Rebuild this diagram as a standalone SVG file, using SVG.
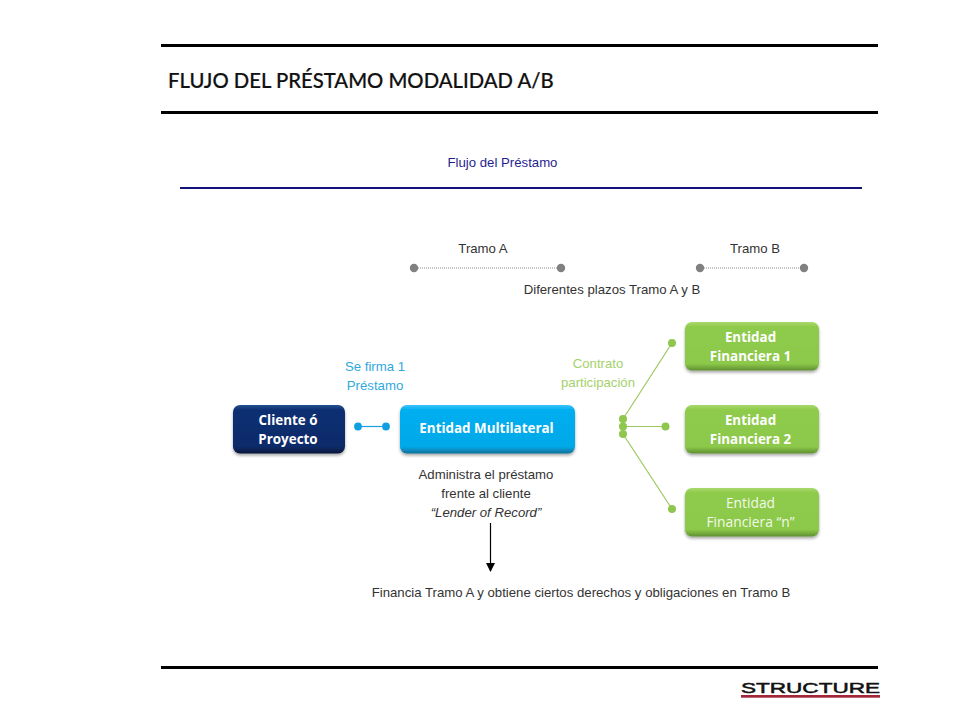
<svg xmlns="http://www.w3.org/2000/svg" width="960" height="720" viewBox="0 0 960 720">
<style>
.rule{stroke:#000;stroke-width:3;fill:none}
text{font-family:"Liberation Sans",Arial,sans-serif;font-size:13.2px;text-anchor:middle;fill:#333}
.box{font-family:"Open Sans","Noto Sans",sans-serif;font-size:13.4px;font-weight:700;fill:#fff}
.thin{font-weight:400;font-size:13.800px;fill:#f2f9e8}
.gray{stroke:#8c8c8c;stroke-width:1;stroke-dasharray:1 1;fill:none}
.gd{fill:#808080}
.bl{stroke:#1ba1e2;stroke-width:1.2;fill:none}
.bd{fill:#0f9fe0}
.gr{stroke:#9cc85c;stroke-width:1.2;fill:none}
.grd{fill:#8ec64e}
</style>
<defs>
<linearGradient id="gGreen" x1="0" y1="0" x2="0" y2="1"><stop offset="0" stop-color="#a9d86c"/><stop offset=".1" stop-color="#8fcb4c"/><stop offset=".86" stop-color="#8cc84a"/><stop offset="1" stop-color="#5f8f30"/></linearGradient>
<linearGradient id="gBlue" x1="0" y1="0" x2="0" y2="1"><stop offset="0" stop-color="#3cc4fb"/><stop offset=".1" stop-color="#02aef0"/><stop offset=".86" stop-color="#05a9e8"/><stop offset="1" stop-color="#0a6f98"/></linearGradient>
<linearGradient id="gNavy" x1="0" y1="0" x2="0" y2="1"><stop offset="0" stop-color="#24508f"/><stop offset=".1" stop-color="#0e2f72"/><stop offset=".86" stop-color="#0c2b69"/><stop offset="1" stop-color="#061638"/></linearGradient>
<filter id="sh" x="-10%" y="-20%" width="120%" height="150%"><feDropShadow dx="0" dy="2" stdDeviation="1.800" flood-color="#000" flood-opacity=".35"/></filter>
<marker id="arr" markerWidth="9" markerHeight="10" refX="8" refY="4.500" orient="auto" markerUnits="userSpaceOnUse"><path d="M0 0L9 4.500L0 9Z" fill="#000"/></marker>
</defs>

<g id="header">
<line class="rule" x1="161" y1="45.500" x2="878" y2="45.500"/>
<line class="rule" x1="161" y1="112.500" x2="878" y2="112.500"/>
<text x="168" y="87.500" style="font-family:'Lato','Open Sans',sans-serif;font-size:20.300px;font-weight:500;text-anchor:start;fill:#111;stroke:#111;stroke-width:.2">FLUJO DEL PRÉSTAMO MODALIDAD A/B</text>
</g>

<g id="section">
<text x="502.500" y="167" style="fill:#1f1f8f">Flujo del Préstamo</text>
<line x1="180" y1="188" x2="862" y2="188" stroke="#12127a" stroke-width="2"/>
</g>

<g id="connectors">
<line class="gray" x1="414" y1="268" x2="561" y2="268"/>
<line class="gray" x1="700" y1="268" x2="804" y2="268"/>
<line class="bl" x1="358" y1="426.500" x2="386" y2="426.500"/>
<line class="gr" x1="623" y1="419" x2="672" y2="343"/>
<line class="gr" x1="623" y1="426.500" x2="665" y2="426.500"/>
<line class="gr" x1="623" y1="434" x2="672" y2="509"/>
<line x1="490.500" y1="523" x2="490.500" y2="571" stroke="#000" stroke-width="1.200" marker-end="url(#arr)"/>
<circle class="gd" cx="414" cy="268" r="4.200"/><circle class="gd" cx="561" cy="268" r="4.200"/>
<circle class="gd" cx="700" cy="268" r="4.200"/><circle class="gd" cx="804" cy="268" r="4.200"/>
<circle class="bd" cx="358" cy="426.500" r="3.900"/><circle class="bd" cx="386" cy="426.500" r="3.900"/>
<circle class="grd" cx="623" cy="419" r="4"/><circle class="grd" cx="623" cy="426.500" r="4"/><circle class="grd" cx="623" cy="434" r="4"/>
<circle class="grd" cx="672" cy="343" r="4"/><circle class="grd" cx="665.500" cy="426.500" r="4"/><circle class="grd" cx="672" cy="509" r="4"/>
</g>

<g id="labels">
<text x="483" y="252.500">Tramo A</text>
<text x="755" y="252.500">Tramo B</text>
<text x="612" y="294">Diferentes plazos Tramo A y B</text>
<text x="375" y="370.500" style="fill:#2fa8de">Se firma 1</text>
<text x="375" y="389.500" style="fill:#2fa8de">Préstamo</text>
<text x="598" y="367.500" style="fill:#a5d16c">Contrato</text>
<text x="598" y="386.500" style="fill:#a5d16c">participación</text>
<text x="486" y="478.500">Administra el préstamo</text>
<text x="486" y="497.500">frente al cliente</text>
<text x="486" y="516.500" style="font-style:italic">“Lender of Record”</text>
<text x="581" y="596.500">Financia Tramo A y obtiene ciertos derechos y obligaciones en Tramo B</text>
</g>

<g id="cliente">
<rect x="233" y="405" width="112" height="48.500" rx="7" fill="url(#gNavy)" filter="url(#sh)"/>
<text class="box" x="288" y="424.500">Cliente ó</text><text class="box" x="288" y="444">Proyecto</text>
</g>
<g id="multilateral">
<rect x="400" y="405" width="175" height="48.500" rx="7" fill="url(#gBlue)" filter="url(#sh)"/>
<text class="box" x="486.500" y="433">Entidad Multilateral</text>
</g>
<g id="financiera1">
<rect x="685" y="322" width="134" height="48.500" rx="7" fill="url(#gGreen)" filter="url(#sh)"/>
<text class="box" x="750.500" y="341.500">Entidad</text><text class="box" x="750.500" y="361">Financiera 1</text>
</g>
<g id="financiera2">
<rect x="685" y="405" width="134" height="48.500" rx="7" fill="url(#gGreen)" filter="url(#sh)"/>
<text class="box" x="750.500" y="424.500">Entidad</text><text class="box" x="750.500" y="444">Financiera 2</text>
</g>
<g id="financieran">
<rect x="685" y="488" width="134" height="48.500" rx="7" fill="url(#gGreen)" filter="url(#sh)"/>
<text class="box thin" x="750.500" y="507.500">Entidad</text><text class="box thin" x="750.500" y="527">Financiera “n”</text>
</g>

<g id="footer">
<line class="rule" x1="161" y1="667.500" x2="878" y2="667.500"/>
<text x="810.500" y="692.500" textLength="139" lengthAdjust="spacingAndGlyphs" style="font-family:'Liberation Sans',sans-serif;font-size:15px;fill:#111;stroke:#111;stroke-width:.5">STRUCTURE</text>
<rect x="741" y="695" width="139" height="2.700" fill="#a3263a"/>
</g>
</svg>
